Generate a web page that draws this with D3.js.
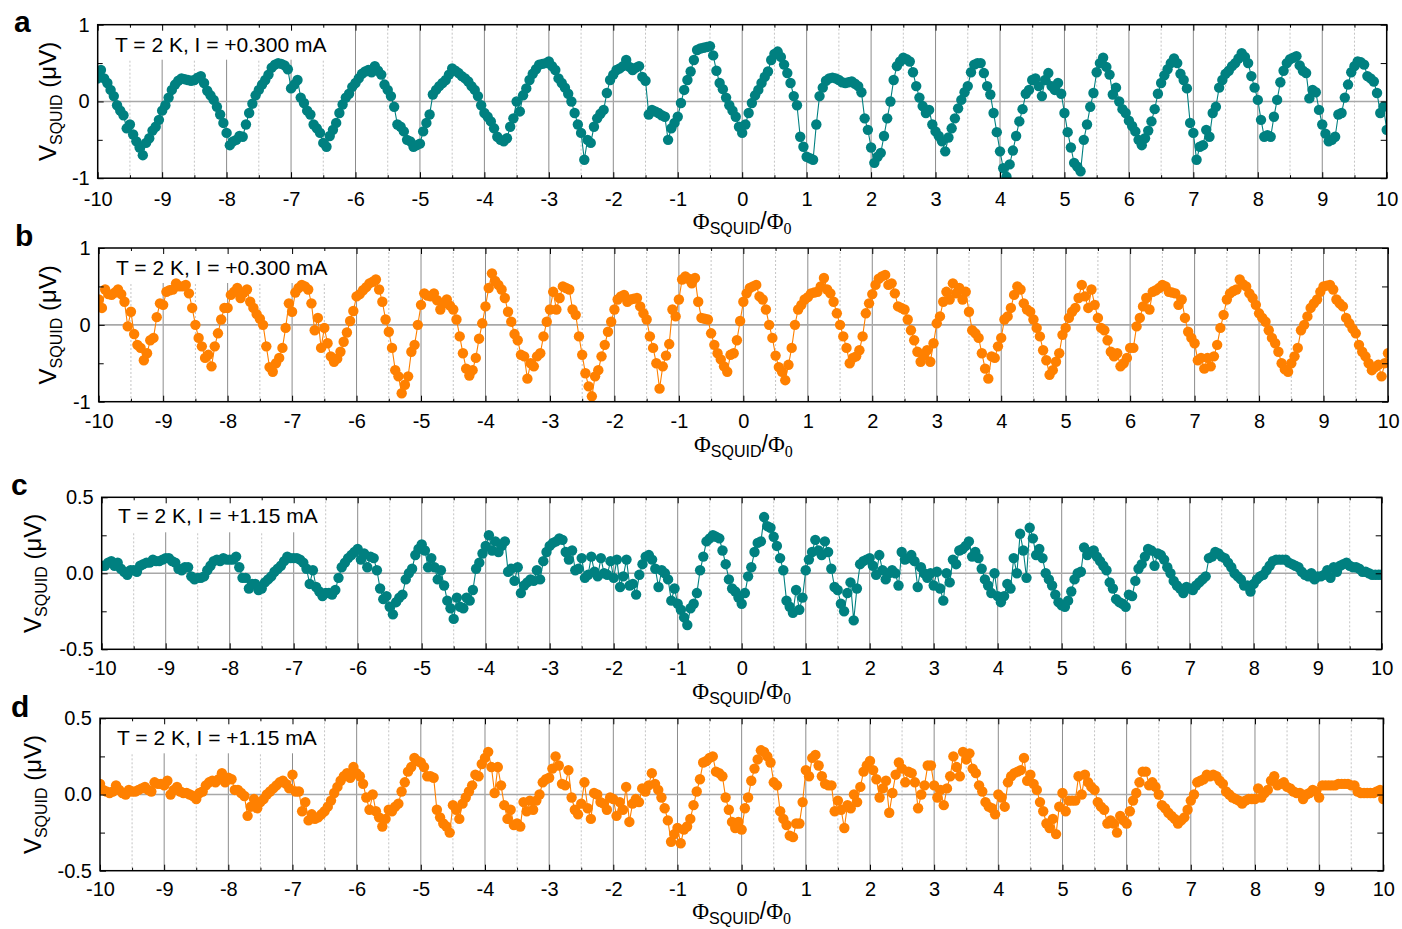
<!DOCTYPE html>
<html><head><meta charset="utf-8">
<script src="https://cdn.jsdelivr.net/npm/d3@7"></script>
<style>
html,body{margin:0;padding:0;background:#fff;}
svg{display:block;}
text{font-family:"Liberation Sans",Arial,sans-serif;fill:#000;}
</style></head><body>
<svg id="chart" width="1402" height="929"></svg>
<script>
// Flux axis (Phi_SQUID / Phi_0), sampling positions
const phi = [
-10,-9.95,-9.9,-9.85,-9.8,-9.75,-9.7,-9.65,-9.6,-9.55,-9.5,-9.45,-9.4,-9.35,-9.3,-9.25,-9.2,-9.15,-9.1,-9.05,
-9,-8.95,-8.9,-8.85,-8.8,-8.75,-8.7,-8.65,-8.6,-8.55,-8.5,-8.45,-8.4,-8.35,-8.3,-8.25,-8.2,-8.15,-8.1,-8.05,
-8,-7.95,-7.9,-7.85,-7.8,-7.75,-7.7,-7.65,-7.6,-7.55,-7.5,-7.45,-7.4,-7.35,-7.3,-7.25,-7.2,-7.15,-7.1,-7.05,
-7,-6.95,-6.9,-6.85,-6.8,-6.75,-6.7,-6.65,-6.6,-6.55,-6.5,-6.45,-6.4,-6.35,-6.3,-6.25,-6.2,-6.15,-6.1,-6.05,
-6,-5.95,-5.9,-5.85,-5.8,-5.75,-5.7,-5.65,-5.6,-5.55,-5.5,-5.45,-5.4,-5.35,-5.3,-5.25,-5.2,-5.15,-5.1,-5.05,
-5,-4.95,-4.9,-4.85,-4.8,-4.75,-4.7,-4.65,-4.6,-4.55,-4.5,-4.45,-4.4,-4.35,-4.3,-4.25,-4.2,-4.15,-4.1,-4.05,
-4,-3.95,-3.9,-3.85,-3.8,-3.75,-3.7,-3.65,-3.6,-3.55,-3.5,-3.45,-3.4,-3.35,-3.3,-3.25,-3.2,-3.15,-3.1,-3.05,
-3,-2.95,-2.9,-2.85,-2.8,-2.75,-2.7,-2.65,-2.6,-2.55,-2.5,-2.45,-2.4,-2.35,-2.3,-2.25,-2.2,-2.15,-2.1,-2.05,
-2,-1.95,-1.9,-1.85,-1.8,-1.75,-1.7,-1.65,-1.6,-1.55,-1.5,-1.45,-1.4,-1.35,-1.3,-1.25,-1.2,-1.15,-1.1,-1.05,
-1,-0.95,-0.9,-0.85,-0.8,-0.75,-0.7,-0.65,-0.6,-0.55,-0.5,-0.45,-0.4,-0.35,-0.3,-0.25,-0.2,-0.15,-0.1,-0.05,
0,0.05,0.1,0.15,0.2,0.25,0.3,0.35,0.4,0.45,0.5,0.55,0.6,0.65,0.7,0.75,0.8,0.85,0.9,0.95,
1,1.05,1.1,1.15,1.2,1.25,1.3,1.35,1.4,1.45,1.5,1.55,1.6,1.65,1.7,1.75,1.8,1.85,1.9,1.95,
2,2.05,2.1,2.15,2.2,2.25,2.3,2.35,2.4,2.45,2.5,2.55,2.6,2.65,2.7,2.75,2.8,2.85,2.9,2.95,
3,3.05,3.1,3.15,3.2,3.25,3.3,3.35,3.4,3.45,3.5,3.55,3.6,3.65,3.7,3.75,3.8,3.85,3.9,3.95,
4,4.05,4.1,4.15,4.2,4.25,4.3,4.35,4.4,4.45,4.5,4.55,4.6,4.65,4.7,4.75,4.8,4.85,4.9,4.95,
5,5.05,5.1,5.15,5.2,5.25,5.3,5.35,5.4,5.45,5.5,5.55,5.6,5.65,5.7,5.75,5.8,5.85,5.9,5.95,
6,6.05,6.1,6.15,6.2,6.25,6.3,6.35,6.4,6.45,6.5,6.55,6.6,6.65,6.7,6.75,6.8,6.85,6.9,6.95,
7,7.05,7.1,7.15,7.2,7.25,7.3,7.35,7.4,7.45,7.5,7.55,7.6,7.65,7.7,7.75,7.8,7.85,7.9,7.95,
8,8.05,8.1,8.15,8.2,8.25,8.3,8.35,8.4,8.45,8.5,8.55,8.6,8.65,8.7,8.75,8.8,8.85,8.9,8.95,
9,9.05,9.1,9.15,9.2,9.25,9.3,9.35,9.4,9.45,9.5,9.55,9.6,9.65,9.7,9.75,9.8,9.85,9.9,9.95,
10];

// Panel a: V_SQUID (uV), I = +0.300 mA
const vA = [
0.30,0.41,0.30,0.24,0.15,0.07,-0.05,-0.12,-0.18,-0.35,-0.30,-0.43,-0.52,-0.60,-0.70,-0.54,-0.48,-0.38,-0.33,-0.24,
-0.12,-0.05,0.05,0.15,0.22,0.27,0.30,0.29,0.28,0.27,0.28,0.31,0.33,0.24,0.14,0.08,0.02,-0.07,-0.17,-0.28,
-0.41,-0.57,-0.52,-0.50,-0.45,-0.46,-0.30,-0.15,-0.03,0.08,0.15,0.22,0.28,0.35,0.44,0.48,0.50,0.49,0.47,0.42,
0.17,0.22,0.28,0.05,-0.02,-0.12,-0.17,-0.30,-0.35,-0.41,-0.54,-0.59,-0.45,-0.37,-0.28,-0.15,-0.04,0.05,0.10,0.19,
0.24,0.30,0.36,0.39,0.41,0.38,0.46,0.40,0.35,0.22,0.15,0.07,-0.07,-0.30,-0.33,-0.39,-0.50,-0.52,-0.59,-0.57,
-0.55,-0.39,-0.28,-0.17,0.09,0.15,0.20,0.24,0.28,0.35,0.43,0.40,0.37,0.33,0.30,0.26,0.20,0.15,0.07,-0.05,
-0.15,-0.20,-0.26,-0.35,-0.46,-0.50,-0.52,-0.48,-0.33,-0.22,0.00,-0.13,0.08,0.17,0.28,0.36,0.42,0.48,0.49,0.50,
0.52,0.46,0.41,0.30,0.24,0.18,0.10,0.00,-0.15,-0.30,-0.41,-0.76,-0.50,-0.54,-0.33,-0.22,-0.16,-0.11,0.11,0.28,
0.35,0.41,0.43,0.46,0.54,0.45,0.41,0.44,0.46,0.32,0.27,-0.17,-0.11,-0.13,-0.15,-0.18,-0.20,-0.50,-0.35,-0.28,
-0.20,-0.02,0.15,0.28,0.39,0.54,0.67,0.69,0.70,0.71,0.72,0.60,0.40,0.24,0.16,0.05,-0.05,-0.12,-0.20,-0.33,
-0.41,-0.30,-0.15,-0.02,0.08,0.15,0.24,0.32,0.39,0.54,0.62,0.65,0.58,0.48,0.37,0.24,0.07,-0.05,-0.46,-0.59,
-0.72,-0.74,-0.76,-0.30,0.07,0.18,0.27,0.30,0.31,0.30,0.28,0.25,0.24,0.25,0.26,0.23,0.20,0.12,-0.22,-0.37,
-0.60,-0.80,-0.72,-0.67,-0.45,-0.22,0.00,0.28,0.46,0.52,0.57,0.55,0.52,0.38,0.20,0.05,-0.06,-0.15,-0.11,-0.30,
-0.39,-0.45,-0.52,-0.65,-0.47,-0.35,-0.22,-0.09,0.02,0.12,0.20,0.38,0.48,0.50,0.50,0.37,0.20,0.09,-0.15,-0.40,
-0.65,-0.87,-0.98,-0.82,-0.64,-0.45,-0.26,-0.10,0.10,0.15,0.28,0.30,0.20,0.07,0.28,0.37,0.20,0.15,0.24,0.10,
-0.15,-0.40,-0.60,-0.80,-0.85,-0.91,-0.50,-0.30,-0.07,0.11,0.38,0.50,0.57,0.45,0.35,0.09,0.18,0.00,-0.10,-0.15,
-0.25,-0.32,-0.39,-0.50,-0.57,-0.48,-0.38,-0.26,-0.10,0.10,0.24,0.34,0.42,0.50,0.56,0.50,0.36,0.28,0.17,-0.28,
-0.41,-0.76,-0.59,-0.57,-0.37,-0.46,-0.15,-0.07,0.18,0.28,0.36,0.40,0.46,0.50,0.56,0.63,0.58,0.50,0.33,0.18,
0.02,-0.24,-0.46,-0.44,-0.46,-0.20,0.02,0.25,0.40,0.50,0.55,0.57,0.59,0.47,0.40,0.37,0.04,0.15,0.12,-0.11,
-0.30,-0.42,-0.52,-0.50,-0.46,-0.17,-0.15,0.05,0.22,0.38,0.46,0.52,0.51,0.48,0.33,0.30,0.26,0.11,-0.15,-0.07,
-0.37];

// Panel b: V_SQUID (uV), I = +0.300 mA
const vB = [
0.33,0.22,0.46,0.40,0.39,0.42,0.46,0.40,0.30,-0.02,0.17,-0.12,-0.26,-0.30,-0.46,-0.37,-0.20,-0.17,0.10,0.28,
0.26,0.43,0.45,0.46,0.54,0.50,0.50,0.52,0.41,0.22,0.00,-0.17,-0.28,-0.43,-0.39,-0.54,-0.28,-0.11,0.07,0.22,
0.22,0.39,0.43,0.48,0.35,0.42,0.46,0.30,0.22,0.14,0.08,0.00,-0.28,-0.55,-0.61,-0.50,-0.43,-0.30,-0.04,0.28,
0.17,0.42,0.48,0.52,0.50,0.46,0.28,-0.07,0.09,-0.30,-0.04,-0.24,-0.41,-0.48,-0.44,-0.35,-0.22,-0.10,0.05,0.18,
0.37,0.40,0.45,0.49,0.54,0.56,0.59,0.46,0.30,0.07,-0.09,-0.30,-0.59,-0.67,-0.89,-0.78,-0.67,-0.35,-0.26,0.00,
0.26,0.41,0.38,0.37,0.41,0.32,0.20,0.28,0.33,0.25,0.20,0.07,-0.15,-0.37,-0.57,-0.66,-0.59,-0.43,-0.18,0.02,
0.24,0.48,0.67,0.57,0.52,0.46,0.35,0.17,0.04,-0.12,-0.20,-0.39,-0.41,-0.70,-0.50,-0.54,-0.41,-0.37,-0.15,0.04,
0.20,0.43,0.20,0.35,0.50,0.48,0.46,0.20,0.13,-0.15,-0.39,-0.63,-0.80,-0.93,-0.67,-0.59,-0.41,-0.26,-0.09,0.04,
0.20,0.33,0.37,0.39,0.30,0.33,0.34,0.35,0.24,0.15,0.07,-0.15,-0.30,-0.50,-0.83,-0.54,-0.40,-0.25,0.20,0.11,
0.33,0.59,0.63,0.60,0.54,0.61,0.30,0.09,0.08,0.07,-0.11,-0.26,-0.37,-0.45,-0.54,-0.61,-0.39,-0.37,-0.20,0.05,
0.30,0.41,0.48,0.50,0.52,0.37,0.33,0.20,0.00,-0.17,-0.40,-0.55,-0.61,-0.72,-0.52,-0.30,0.00,0.20,0.26,0.33,
0.36,0.41,0.42,0.43,0.50,0.61,0.46,0.41,0.30,0.15,0.00,-0.15,-0.30,-0.50,-0.43,-0.41,-0.33,-0.15,0.15,0.28,
0.40,0.52,0.60,0.63,0.65,0.52,0.54,0.41,0.24,0.22,0.20,0.07,-0.07,-0.20,-0.35,-0.48,-0.40,-0.33,-0.48,-0.24,
0.02,0.11,0.30,0.43,0.33,0.54,0.41,0.48,0.33,0.43,0.17,-0.07,-0.11,-0.17,-0.37,-0.57,-0.70,-0.41,-0.43,-0.28,
-0.17,0.07,0.11,0.22,0.39,0.50,0.46,0.28,0.20,0.17,0.07,-0.04,-0.15,-0.33,-0.46,-0.65,-0.59,-0.48,-0.37,-0.13,
-0.04,0.09,0.17,0.22,0.35,0.52,0.37,0.22,0.46,0.26,0.09,-0.04,-0.07,-0.20,-0.35,-0.41,-0.37,-0.54,-0.50,-0.43,
-0.30,-0.30,-0.02,0.09,0.24,0.35,0.20,0.43,0.45,0.48,0.52,0.50,0.43,0.42,0.41,0.26,0.33,0.09,-0.09,-0.17,
-0.24,-0.46,-0.43,-0.57,-0.43,-0.54,-0.41,-0.26,-0.04,0.13,0.33,0.41,0.44,0.46,0.59,0.53,0.50,0.41,0.35,0.26,
0.15,0.09,0.04,-0.07,-0.17,-0.24,-0.35,-0.50,-0.58,-0.61,-0.50,-0.41,-0.30,-0.07,0.00,0.11,0.22,0.28,0.33,0.43,
0.50,0.51,0.52,0.46,0.33,0.28,0.24,0.09,0.02,-0.05,-0.11,-0.26,-0.35,-0.41,-0.50,-0.59,-0.55,-0.52,-0.67,-0.50,
-0.37];

// Panel c: V_SQUID (uV), I = +1.15 mA
const vC = [
0.05,0.05,0.07,0.08,0.05,0.07,0.03,0.01,-0.01,0.02,0.02,0.01,0.05,0.06,0.07,0.07,0.09,0.08,0.08,0.09,
0.10,0.10,0.08,0.07,0.03,0.02,0.04,0.04,-0.02,-0.04,-0.03,-0.03,-0.02,0.02,0.05,0.08,0.09,0.08,0.10,0.09,
0.09,0.09,0.11,0.04,-0.03,-0.03,-0.10,-0.07,-0.07,-0.11,-0.10,-0.06,-0.04,-0.02,0.01,0.03,0.05,0.08,0.11,0.10,
0.10,0.10,0.09,0.07,0.03,-0.07,0.02,-0.09,-0.12,-0.15,-0.13,-0.13,-0.14,-0.11,-0.03,0.04,0.07,0.10,0.12,0.14,
0.16,0.09,0.13,0.04,0.11,0.10,0.02,-0.10,-0.17,-0.15,-0.22,-0.27,-0.19,-0.16,-0.14,-0.04,0.00,0.03,0.12,0.16,
0.19,0.15,0.04,0.10,0.04,-0.04,0.02,-0.08,-0.18,-0.23,-0.30,-0.16,-0.22,-0.23,-0.16,-0.18,-0.11,0.03,0.07,0.13,
0.18,0.25,0.15,0.21,0.14,0.18,0.21,0.01,0.03,-0.05,0.04,-0.13,-0.08,-0.06,-0.04,-0.05,0.02,-0.04,0.08,0.14,
0.18,0.20,0.21,0.23,0.22,0.14,0.09,0.15,0.02,0.03,0.10,-0.03,-0.01,0.11,0.01,-0.02,0.10,0.00,-0.01,0.08,
-0.03,0.09,-0.09,-0.02,0.09,-0.08,-0.07,-0.14,-0.01,0.06,0.11,0.12,0.09,0.03,-0.09,0.02,0.00,-0.04,-0.18,-0.10,
-0.20,-0.24,-0.29,-0.34,-0.23,-0.20,-0.13,0.02,0.11,0.21,0.23,0.25,0.24,0.23,0.15,0.06,-0.04,-0.10,-0.12,-0.16,
-0.20,-0.13,-0.02,0.04,0.14,0.20,0.21,0.37,0.31,0.30,0.24,0.18,0.10,0.02,-0.18,-0.22,-0.26,-0.11,-0.24,-0.16,
0.02,0.09,0.14,0.22,0.15,0.12,0.21,0.14,0.03,-0.09,-0.11,-0.20,-0.25,-0.13,-0.06,-0.31,-0.10,0.06,0.08,0.09,
0.10,0.05,-0.01,0.12,0.02,-0.04,0.00,0.02,0.00,-0.08,0.14,0.09,0.10,0.12,0.08,-0.09,0.04,0.00,-0.03,0.00,
-0.08,0.01,-0.10,-0.18,0.00,-0.06,0.09,0.06,0.15,0.16,0.18,0.21,0.11,0.14,0.10,0.03,-0.04,-0.08,-0.13,0.00,
-0.15,-0.19,-0.15,-0.07,-0.10,0.10,0.00,0.26,0.15,-0.03,0.30,0.23,0.12,0.16,0.10,0.00,-0.04,-0.08,-0.14,-0.19,
-0.21,-0.22,-0.18,-0.12,-0.04,0.00,0.01,0.17,0.12,0.14,0.15,0.11,0.08,0.05,0.02,-0.06,-0.10,-0.17,-0.19,-0.20,
-0.22,-0.14,-0.15,-0.05,0.03,0.06,0.11,0.16,0.15,0.05,0.13,0.12,0.09,0.04,0.00,-0.05,-0.08,-0.10,-0.13,-0.09,
-0.10,-0.11,-0.08,-0.06,-0.04,-0.02,0.10,0.11,0.14,0.13,0.11,0.10,0.07,0.04,0.00,-0.02,-0.04,-0.08,-0.08,-0.12,
-0.07,-0.04,-0.02,-0.01,0.02,0.05,0.08,0.09,0.09,0.09,0.09,0.07,0.06,0.05,0.04,0.01,-0.01,-0.02,0.00,-0.04,
-0.02,-0.02,-0.01,0.02,-0.03,0.04,0.01,0.05,0.06,0.07,0.05,0.04,0.04,0.03,0.01,0.01,0.00,-0.01,-0.01,-0.01,
-0.01];

// Panel d: V_SQUID (uV), I = +1.15 mA
const vD = [
0.07,0.03,0.02,0.01,0.02,0.06,0.03,0.01,0.00,0.03,0.02,0.02,0.03,0.04,0.05,0.03,0.02,0.08,0.07,0.07,
0.06,0.09,0.00,0.03,0.05,0.02,0.01,0.01,0.00,-0.01,-0.03,0.01,0.02,0.06,0.08,0.09,0.08,0.10,0.14,0.08,
0.11,0.10,0.03,0.03,0.01,-0.01,-0.14,-0.08,-0.03,-0.09,-0.05,-0.03,0.00,0.02,0.04,0.06,0.08,0.09,0.07,0.04,
0.13,0.02,0.02,-0.11,-0.05,-0.17,-0.13,-0.16,-0.15,-0.13,-0.11,-0.08,-0.04,0.01,0.05,0.09,0.12,0.14,0.11,0.18,
0.14,0.12,0.07,-0.02,-0.10,0.00,-0.11,-0.15,-0.21,-0.16,-0.10,-0.11,-0.08,-0.06,0.02,0.08,0.15,0.18,0.24,0.22,
0.21,0.18,0.12,0.12,0.11,-0.10,-0.15,-0.19,-0.21,-0.25,-0.07,-0.10,-0.16,-0.06,-0.02,0.02,0.06,0.13,0.12,0.20,
0.24,0.28,0.18,0.01,0.18,0.06,-0.07,-0.16,-0.10,-0.20,-0.19,-0.21,-0.05,-0.11,-0.04,-0.10,-0.04,0.00,0.08,0.10,
0.11,0.17,0.25,0.19,0.07,0.06,0.16,-0.02,-0.10,-0.13,-0.06,0.08,-0.09,-0.16,0.01,0.00,-0.05,-0.06,-0.10,-0.02,
-0.03,-0.14,-0.05,-0.10,0.05,-0.18,-0.06,-0.03,-0.05,0.04,0.02,0.06,0.14,0.07,0.03,-0.02,-0.09,-0.17,-0.31,-0.26,
-0.22,-0.32,-0.23,-0.21,-0.16,-0.07,0.02,0.10,0.21,0.22,0.24,0.25,0.15,0.14,0.12,-0.02,-0.10,-0.18,-0.22,-0.18,
-0.23,-0.09,-0.02,0.09,0.17,0.23,0.29,0.28,0.25,0.21,0.08,0.06,-0.11,-0.16,-0.20,-0.27,-0.28,-0.19,-0.19,-0.05,
0.16,0.12,0.24,0.26,0.19,0.12,0.07,0.06,0.06,-0.11,-0.04,-0.10,-0.22,-0.07,-0.09,0.00,-0.05,0.05,0.15,0.19,
0.22,0.16,0.10,-0.02,0.04,0.09,-0.12,0.01,0.13,0.21,0.17,0.08,0.15,0.14,0.08,-0.09,0.00,0.06,0.19,0.19,
0.06,-0.02,0.03,-0.07,0.04,0.12,0.25,0.18,0.12,0.28,0.23,0.27,0.17,0.14,0.06,0.02,-0.05,-0.08,-0.09,-0.13,
0.00,-0.02,-0.08,0.08,0.12,0.14,0.15,0.16,0.24,0.09,0.13,0.07,0.03,-0.05,-0.11,-0.19,-0.22,-0.16,-0.26,-0.08,
0.01,-0.11,-0.04,-0.04,-0.04,0.12,0.00,0.13,0.08,0.05,0.03,-0.05,-0.08,-0.10,-0.19,-0.17,-0.19,-0.25,-0.14,-0.17,
-0.19,-0.11,-0.04,0.01,0.08,0.15,0.15,0.06,0.08,0.05,0.00,-0.07,-0.09,-0.12,-0.14,-0.16,-0.19,-0.17,-0.15,-0.10,
-0.04,0.00,0.08,0.09,0.10,0.13,0.12,0.13,0.12,0.09,0.07,0.02,0.00,-0.02,-0.03,-0.04,-0.06,-0.04,-0.03,-0.03,
-0.03,0.04,-0.02,0.01,0.03,0.09,0.12,0.06,0.07,0.08,0.05,0.04,0.02,0.01,0.01,-0.03,0.00,0.01,0.03,0.02,
-0.02,0.06,0.06,0.06,0.06,0.06,0.07,0.07,0.07,0.07,0.06,0.06,0.02,0.01,0.01,0.01,0.01,0.01,0.02,0.03,
-0.03];

// Tick values and labels
const xTickValues = [-10,-9,-8,-7,-6,-5,-4,-3,-2,-1,0,1,2,3,4,5,6,7,8,9,10];
const xTickLabels = ["-10","-9","-8","-7","-6","-5","-4","-3","-2","-1","0","1","2","3","4","5","6","7","8","9","10"];
const xHalfValues = [-9.5,-8.5,-7.5,-6.5,-5.5,-4.5,-3.5,-2.5,-1.5,-0.5,0.5,1.5,2.5,3.5,4.5,5.5,6.5,7.5,8.5,9.5];
const yTicksAB = [-1,0,1];
const yLabelsAB = ["-1","0","1"];
const yMinorAB = [-0.5,0.5];
const yTicksCD = [-0.5,0,0.5];
const yLabelsCD = ["-0.5","0.0","0.5"];
const yMinorCD = [-0.25,0.25];
const panelLetters = ["a","b","c","d"];
const notes = ["T = 2 K, I = +0.300 mA","T = 2 K, I = +0.300 mA","T = 2 K, I = +1.15 mA","T = 2 K, I = +1.15 mA"];
const seriesList = [vA, vB, vC, vD];

const TEAL = "#008080", ORANGE = "#ff8000";
const SERIF = "'Liberation Serif','Times New Roman',serif";

// layout (pixel geometry of each panel)
const panels = [
  {l:97.7, r:1386.7, t:24.7, b:178.2, dom:[-1,1], ticks:yTicksAB, labels:yLabelsAB, minor:yMinorAB, color:TEAL,
   letterX:14, letterY:32, noteX:115, noteY:52, ylX:55.5, tickBase:28, xlOff:51},
  {l:98.7, r:1388, t:248, b:401.7, dom:[-1,1], ticks:yTicksAB, labels:yLabelsAB, minor:yMinorAB, color:ORANGE,
   letterX:15, letterY:246, noteX:116, noteY:275, ylX:56, tickBase:26.5, xlOff:50},
  {l:101.7, r:1381.7, t:497.3, b:649.3, dom:[-0.5,0.5], ticks:yTicksCD, labels:yLabelsCD, minor:yMinorCD, color:TEAL,
   letterX:11, letterY:495, noteX:118, noteY:523, ylX:41, tickBase:26, xlOff:50},
  {l:100, r:1383.3, t:718.3, b:870.7, dom:[-0.5,0.5], ticks:yTicksCD, labels:yLabelsCD, minor:yMinorCD, color:ORANGE,
   letterX:11, letterY:717, noteX:117, noteY:745, ylX:41, tickBase:25, xlOff:48}
];

const svg = d3.select("#chart");
svg.append("rect").attr("width",1402).attr("height",929).attr("fill","#fff");

panels.forEach((p, i) => {
  const vals = seriesList[i];
  const x = d3.scaleLinear().domain([-10,10]).range([p.l, p.r]);
  const y = d3.scaleLinear().domain(p.dom).range([p.b, p.t]);
  const g = svg.append("g");

  // clip
  const cid = "clip" + i;
  svg.append("defs").append("clipPath").attr("id", cid)
    .append("rect").attr("x", p.l).attr("y", p.t).attr("width", p.r - p.l).attr("height", p.b - p.t);

  // grid
  g.append("g").selectAll("line").data(xHalfValues).join("line")
    .attr("x1", d => x(d)).attr("x2", d => x(d)).attr("y1", p.t).attr("y2", p.b)
    .attr("stroke", "#c4c4c4").attr("stroke-width", 1).attr("stroke-dasharray", "2,2");
  g.append("g").selectAll("line").data(xTickValues.slice(1, -1)).join("line")
    .attr("x1", d => x(d)).attr("x2", d => x(d)).attr("y1", p.t).attr("y2", p.b)
    .attr("stroke", "#8c8c8c").attr("stroke-width", 1);
  g.append("line").attr("x1", p.l).attr("x2", p.r).attr("y1", y(0)).attr("y2", y(0))
    .attr("stroke", "#a8a8a8").attr("stroke-width", 1.6);

  // annotation with white backing box (hides grid behind it, as in the figure)
  const note = g.append("text").attr("x", p.noteX).attr("y", p.noteY).attr("font-size", 21).text(notes[i]);
  const nb = note.node().getBBox();
  g.insert("rect", function(){ return note.node(); })
    .attr("x", p.l + 1).attr("y", p.t + 1)
    .attr("width", nb.x + nb.width + 6 - (p.l + 1)).attr("height", 34)
    .attr("fill", "#fff");

  // data
  const pts = phi.map((f, k) => [f, vals[k]]);
  const dg = g.append("g").attr("clip-path", `url(#${cid})`);
  dg.append("path").datum(pts)
    .attr("d", d3.line().x(d => x(d[0])).y(d => y(d[1])))
    .attr("fill", "none").attr("stroke", p.color).attr("stroke-width", 1.1);
  dg.append("g").selectAll("circle").data(pts).join("circle")
    .attr("cx", d => x(d[0])).attr("cy", d => y(d[1])).attr("r", 5.2)
    .attr("fill", p.color);

  // axes
  const fmtX = d => xTickLabels[xTickValues.indexOf(d)];
  const fmtY = d => p.labels[p.ticks.indexOf(d)];
  const styleAxis = sel => {
    sel.select(".domain").remove();
    sel.attr("font-size", 20).attr("font-family", "'Liberation Sans',Arial,sans-serif");
    sel.selectAll("line").attr("stroke", "#000").attr("stroke-width", 1);
    sel.selectAll("text").attr("fill", "#000");
  };
  g.append("g").attr("transform", `translate(0,${p.b})`)
    .call(d3.axisBottom(x).tickValues(xTickValues).tickSize(-6).tickPadding(p.tickBase - 14.2).tickFormat(fmtX))
    .call(styleAxis);
  g.append("g").attr("transform", `translate(0,${p.b})`)
    .call(d3.axisBottom(x).tickValues(xHalfValues).tickSize(-3).tickFormat(() => ""))
    .call(styleAxis);
  g.append("g").attr("transform", `translate(0,${p.t})`)
    .call(d3.axisTop(x).tickValues(xTickValues).tickSize(-6).tickFormat(() => ""))
    .call(styleAxis);
  g.append("g").attr("transform", `translate(0,${p.t})`)
    .call(d3.axisTop(x).tickValues(xHalfValues).tickSize(-3).tickFormat(() => ""))
    .call(styleAxis);
  g.append("g").attr("transform", `translate(${p.l},0)`)
    .call(d3.axisLeft(y).tickValues(p.ticks).tickSize(-6).tickPadding(8).tickFormat(fmtY))
    .call(styleAxis);
  g.append("g").attr("transform", `translate(${p.l},0)`)
    .call(d3.axisLeft(y).tickValues(p.minor).tickSize(-5).tickFormat(() => ""))
    .call(styleAxis);
  g.append("g").attr("transform", `translate(${p.r},0)`)
    .call(d3.axisRight(y).tickValues(p.ticks.concat(p.minor)).tickSize(-6).tickFormat(() => ""))
    .call(styleAxis);

  // frame
  g.append("rect").attr("x", p.l).attr("y", p.t).attr("width", p.r - p.l).attr("height", p.b - p.t)
    .attr("fill", "none").attr("stroke", "#000").attr("stroke-width", 1.5);

  // panel letter
  g.append("text").attr("x", p.letterX).attr("y", p.letterY).attr("font-size", 30)
    .attr("font-weight", "bold").text(panelLetters[i]);

  // x label
  const xl = g.append("text").attr("x", (p.l + p.r) / 2).attr("y", p.b + p.xlOff)
    .attr("text-anchor", "middle").attr("font-size", 23);
  xl.append("tspan").attr("font-family", SERIF).text("Φ");
  xl.append("tspan").attr("font-size", 16).attr("dy", 5).text("SQUID");
  xl.append("tspan").attr("dy", -5).text("/");
  xl.append("tspan").attr("font-family", SERIF).text("Φ");
  xl.append("tspan").attr("font-family", SERIF).attr("font-size", 16).attr("dy", 5).text("0");

  // y label
  const yl = g.append("text")
    .attr("transform", `translate(${p.ylX},${(p.t + p.b) / 2}) rotate(-90)`)
    .attr("text-anchor", "middle").attr("font-size", 24);
  yl.append("tspan").text("V");
  yl.append("tspan").attr("font-size", 16).attr("dy", 6).text("SQUID");
  yl.append("tspan").attr("dy", -6).text("\u00a0(μV)");
});
</script>
</body></html>
